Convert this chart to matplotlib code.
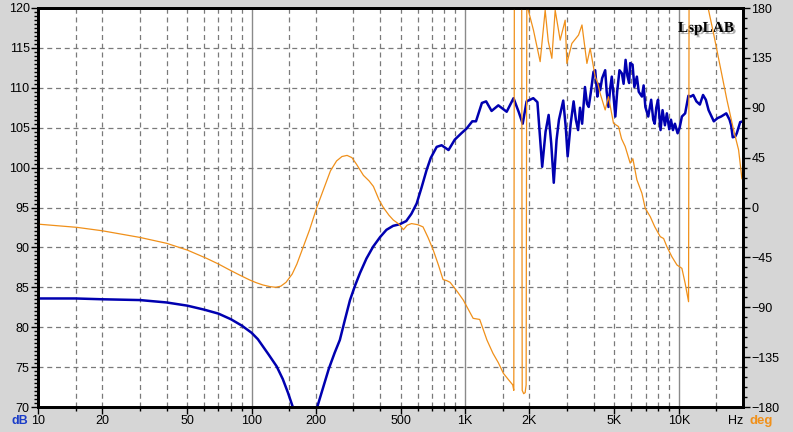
import matplotlib
matplotlib.use("Agg")
import matplotlib.pyplot as plt
import matplotlib.patheffects as pe
from matplotlib.ticker import FixedLocator, FixedFormatter, NullFormatter

# SPL curve (left axis, dB)
spl_freq = [10, 15, 20, 30, 40, 50, 60, 70, 80, 90, 100, 107, 113, 120, 131, 140, 148, 156, 165,
            175, 185, 195, 203, 215, 230, 245, 259, 274, 289, 305, 322, 345, 371, 400, 428, 460,
            494, 530, 560, 593, 625, 660, 690, 736, 776, 836, 894,
            960, 1016, 1080, 1124, 1198, 1254, 1330, 1430, 1565, 1685, 1780, 1860, 1940, 2085,
            2180, 2295, 2380, 2460, 2530, 2600, 2680, 2750, 2880, 2960, 3020, 3120, 3220, 3300,
            3380, 3450, 3530, 3640, 3720, 3790, 3880, 3990, 4064, 4160, 4220, 4286, 4380, 4526,
            4600, 4690, 4780, 4860, 4950, 5050, 5150, 5280, 5420, 5520, 5640, 5750, 5860, 5926,
            6080, 6200, 6370, 6500, 6727, 6850, 6980, 7200, 7430, 7600, 7720, 7850, 8000, 8220,
            8400, 8620, 8800, 9030, 9200, 9400, 9600, 9880, 10100, 10350, 10720, 11100, 11380,
            11700, 12100, 12560, 13000, 13400, 13800, 14600, 15200, 15800, 16700, 17300, 17600,
            17900, 18400, 18700, 19400, 20000]
spl_db = [83.6, 83.6, 83.5, 83.4, 83.1, 82.7, 82.2, 81.7, 81.0, 80.2, 79.3, 78.5, 77.6, 76.6,
          75.1, 73.5, 71.8, 70.0, 67.5, 65.5, 65.0, 66.5, 70.0, 72.2, 74.8, 76.8, 78.4, 81.0,
          83.4, 85.2, 86.8, 88.6, 90.1, 91.3, 92.2, 92.7, 92.9, 93.3, 94.2, 95.5, 97.5, 99.7,
          101.2, 102.6, 102.8, 102.2, 103.5,
          104.3, 104.9, 105.8, 105.8, 108.1,
          108.3, 107.1, 107.8, 107.0, 108.7, 107.0, 105.5, 108.3, 108.7, 108.2, 100.1, 104.5,
          106.6, 103.0, 98.1, 103.5, 106.0, 108.4, 105.0, 101.4, 105.5, 108.3, 106.0, 104.7,
          107.5, 105.5, 110.1, 108.0, 107.6, 109.5, 112.0, 112.2, 108.9, 110.5, 109.7, 111.2,
          112.2, 109.5, 107.6, 110.0, 111.4, 109.0, 106.4, 109.5, 112.2, 111.8, 110.5, 113.5,
          111.5, 110.6, 113.1, 112.9, 110.1, 111.4, 109.5, 108.9, 110.3, 107.6, 106.4, 108.5,
          106.0, 105.5, 107.5, 108.5, 104.7, 107.2, 105.3, 106.8, 104.8, 106.0, 104.7, 105.5,
          104.3, 105.0, 106.4, 106.8, 109.0, 108.9, 109.1, 108.3, 107.9, 109.1, 108.5, 107.2,
          105.8, 106.2, 106.4, 106.8, 106.0, 105.3, 103.8, 103.9, 104.3, 105.7, 105.8]

# phase curve (right axis, degrees); values beyond +-180 are clipped by the axis
ph_freq = [10, 15.2, 20, 30, 40, 50, 61.6, 70, 79, 88, 98, 105, 113, 122, 130, 137, 145, 155,
           163, 175, 187, 202, 215, 234, 250, 265, 280, 295, 310, 334, 355, 372, 395, 414, 440,
           461, 490, 514, 535, 561, 600, 635, 670, 709, 750, 788, 820, 850, 920, 980, 1090,
           1170, 1265, 1350, 1430, 1510, 1590, 1670,
           1690, 1700, 1840, 1850, 1880, 1910, 1930, 1945, 1960, 1976, 2089, 2245, 2370, 2450,
           2547, 2640, 2786, 2940, 2994, 3160, 3396, 3524, 3717, 3850, 4064, 4180, 4286, 4526,
           4690, 4950, 5226, 5400, 5616, 5926, 6100, 6370, 6727, 6970, 7360, 7720, 8194, 8500,
           8806, 9290, 9816, 10350, 10720, 11120, 11200, 13500, 13800, 14560, 15650, 16820,
           18070, 19070, 19770]
ph_deg = [-15, -17.9, -21, -27, -32.3, -38.4, -45.9, -51, -56.4, -61, -65.4, -67.8, -69.9,
          -71.4, -72, -71, -67.5, -60, -51, -35, -20, 0, 14, 33, 42, 46, 47, 45, 39, 29, 24, 19,
          7, 0, -7, -11.3, -15, -20, -16, -14.5, -15.5, -17.5, -27, -38.4, -52, -65, -66, -67.5,
          -76, -83.5, -100, -101,
          -119.6, -131.6, -140, -149.6, -155, -160, -165, 200, 200, -165, -168, -167, -160, 200,
          190, 178, 160, 131.6, 178, 150, 134.6, 178, 151, 169, 130, 148, 155.6, 164.7, 130,
          143.6, 118, 112, 103, 88, 100, 76, 73, 62, 55, 40, 44, 25, 12.8, -0.7, -8.3, -17.3,
          -26.3, -28, -35.4, -44.4, -51.9, -54.9, -68.4, -85, 270, 200, 178, 157, 127, 97, 70,
          52, 26]

x_major = [10, 20, 50, 100, 200, 500, 1000, 2000, 5000, 10000]
x_labels = ["10", "20", "50", "100", "200", "500", "1K", "2K", "5K", "10K"]
x_grid = [m * d for d in (10, 100, 1000) for m in (1.5, 2, 3, 4, 5, 6, 7, 8, 9)] + [15000]
x_solid = [100, 1000, 10000]
db_ticks = [70, 75, 80, 85, 90, 95, 100, 105, 110, 115, 120]
deg_ticks = [-180, -135, -90, -45, 0, 45, 90, 135, 180]

plt.rcParams["font.family"] = ["Liberation Sans", "DejaVu Sans"]
bg = "#d6d6d6"
fig = plt.figure(figsize=(7.93, 4.32), dpi=100, facecolor=bg)
ax = fig.add_axes([38 / 793, 1 - 407 / 432, 705 / 793, 399 / 432])
ax.set_facecolor("white")
ax.set_xscale("log")
ax.set_xlim(10, 20000)
ax.set_ylim(70, 120)

# grid drawn by hand: dashed minor lines, solid decade lines
for f in x_grid:
    ax.axvline(f, color="#7a7a7a", lw=0.9, ls=(0, (4, 3)), zorder=1)
for f in x_solid:
    ax.axvline(f, color="#8a8a8a", lw=1.0, zorder=1)
for d in db_ticks[1:-1]:
    ax.axhline(d, color="#7a7a7a", lw=0.9, ls=(0, (4, 3)), zorder=1)

ax.plot(spl_freq, spl_db, color="#0000b0", lw=1.8, zorder=3)

ax.xaxis.set_major_locator(FixedLocator(x_major))
ax.xaxis.set_major_formatter(FixedFormatter(x_labels))
ax.xaxis.set_minor_locator(FixedLocator([f for f in x_grid if f not in x_major]))
ax.xaxis.set_minor_formatter(NullFormatter())
ax.yaxis.set_major_locator(FixedLocator(db_ticks))
ax.yaxis.set_minor_locator(FixedLocator([70 + 0.5 * i for i in range(101)]))
ax.tick_params(axis="both", which="major", length=5, width=1, labelsize=9, pad=1)
ax.tick_params(axis="both", which="minor", length=3, width=1)

for s in ax.spines.values():
    s.set_linewidth(2)
    s.set_color("black")

ax2 = ax.twinx()
ax2.set_ylim(-180, 180)
ax2.plot(ph_freq, ph_deg, color="#f0901a", lw=0.9, zorder=2)
ax2.yaxis.set_major_locator(FixedLocator(deg_ticks))
ax2.yaxis.set_minor_locator(FixedLocator([-180 + 9 * i for i in range(41)]))
ax2.tick_params(axis="y", which="major", length=5, width=1, labelsize=9, pad=1)
ax2.tick_params(axis="y", which="minor", length=3, width=1)
for s in ax2.spines.values():
    s.set_linewidth(2)

fig.text(12 / 793, 1 - 421 / 432, "dB", color="#1a3cc8", fontsize=9, fontweight="bold", va="center")
fig.text(728 / 793, 1 - 421 / 432, "Hz", color="black", fontsize=9, va="center")
fig.text(750 / 793, 1 - 421 / 432, "deg", color="#f0901a", fontsize=9.5, fontweight="bold", va="center")

ax.text(0.987, 0.965, "LspLAB", transform=ax.transAxes, ha="right", va="top",
        family=["Liberation Serif", "DejaVu Serif"], fontsize=11, fontweight="bold", zorder=5,
        path_effects=[pe.withSimplePatchShadow(offset=(1.5, -1.5), shadow_rgbFace="#9a9a9a", alpha=0.8)])

fig.savefig("out.png", dpi=100, facecolor=bg)
